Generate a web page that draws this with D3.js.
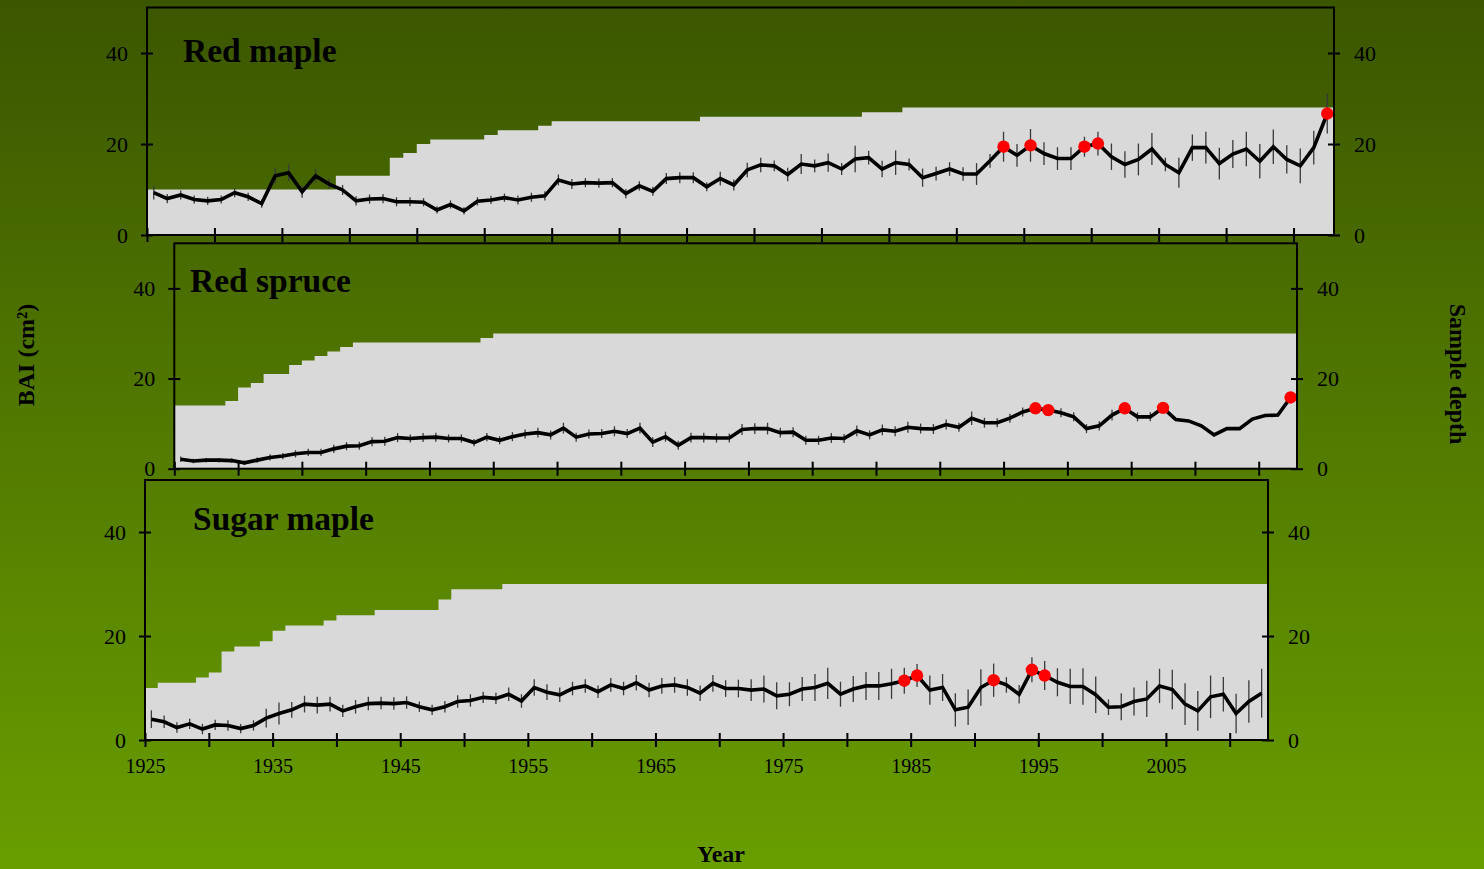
<!DOCTYPE html>
<html><head><meta charset="utf-8">
<script src="https://cdn.jsdelivr.net/npm/d3@7"></script>
<style>body{margin:0;background:#507800;} svg{display:block;}</style>
</head><body>
<svg id="c" width="1484" height="869"></svg>
<script>
// ---------------- DATA ----------------
const years = [1925,1926,1927,1928,1929,1930,1931,1932,1933,1934,1935,1936,1937,1938,1939,1940,1941,1942,1943,1944,1945,1946,1947,1948,1949,1950,1951,1952,1953,1954,1955,1956,1957,1958,1959,1960,1961,1962,1963,1964,1965,1966,1967,1968,1969,1970,1971,1972,1973,1974,1975,1976,1977,1978,1979,1980,1981,1982,1983,1984,1985,1986,1987,1988,1989,1990,1991,1992,1993,1994,1995,1996,1997,1998,1999,2000,2001,2002,2003,2004,2005,2006,2007,2008,2009,2010,2011,2012];
const speciesNames = ["Red maple","Red spruce","Sugar maple"];
const yTickValues = [0,20,40];
const xTickYears = [1925,1930,1935,1940,1945,1950,1955,1960,1965,1970,1975,1980,1985,1990,1995,2000,2005,2010];
const xTickLabels = ["1925","1935","1945","1955","1965","1975","1985","1995","2005"];

const redMapleBAI = [9.3,8.0,8.8,7.8,7.5,7.8,9.3,8.4,6.9,13.0,13.7,9.5,13.0,11.2,9.9,7.5,7.9,8.0,7.3,7.3,7.2,5.5,6.7,5.3,7.4,7.7,8.2,7.7,8.3,8.6,12.1,11.2,11.5,11.4,11.5,9.1,10.8,
 9.6,12.4,12.6,12.6,10.6,12.4,11.0,14.3,15.4,15.2,13.3,15.6,15.2,15.9,14.5,16.7,17.0,14.5,15.9,15.5,12.6,13.5,14.5,13.4,13.4,16.3,19.4,17.5,19.7,17.9,16.8,16.8,19.4,20.1,17.2,15.5,16.6,18.9,15.5,13.7,19.2,19.2,15.7,17.8,18.9,16.2,19.4,16.6,15.2,19.2,26.7];
const redMapleErr = [1.5,1.0,1.0,0.9,0.9,0.9,1.0,0.9,0.9,1.6,1.8,1.3,1.5,1.1,1.1,1.0,1.0,1.0,1.0,1.0,0.9,0.8,0.9,0.8,0.9,0.9,0.9,1.0,1.0,1.0,1.2,1.1,1.0,1.0,1.0,1.0,1.0,
 1.0,1.2,1.2,1.2,1.0,1.5,1.2,1.6,1.6,1.2,1.5,2.2,1.4,2.0,1.3,2.9,1.5,1.8,2.7,1.3,2.0,1.5,1.5,1.5,2.4,1.5,3.3,2.5,3.6,2.5,2.5,2.5,2.2,2.6,2.9,2.9,3.5,3.5,1.5,3.3,2.9,3.5,3.5,3.1,3.8,3.8,3.8,3.1,3.8,3.7,4.4];
const redMapleDepth = [10,10,10,10,10,10,10,10,10,10,10,10,10,10,13,13,13,13,17,18,20,21,21,21,21,22,23,23,23,24,25,25,25,25,25,25,25,25,25,25,25,26,26,26,26,26,26,26,26,26,26,26,26,27,27,27,
 28,28,28,28,28,28,28,28,28,28,28,28,28,28,28,28,28,28,28,28,28,28,28,28,28,28,28,28,28,28,28,28];
const redMapleSig = [1988,1990,1994,1995,2012];

const redSpruceBAI = [2.1,1.7,1.9,1.9,1.8,1.3,1.9,2.5,2.8,3.3,3.6,3.6,4.4,5.0,5.1,6.0,6.1,6.9,6.7,6.9,7.0,6.7,6.7,5.8,7.0,6.3,7.1,7.7,8.0,7.5,9.0,7.0,7.7,7.8,8.3,7.8,9.0,5.9,
 7.1,5.2,6.9,6.9,6.8,6.8,8.7,8.9,8.9,8.0,8.1,6.3,6.3,6.8,6.7,8.4,7.5,8.6,8.3,9.2,8.9,8.8,9.8,9.2,11.2,10.2,10.2,11.2,12.6,13.4,13.0,12.4,11.5,8.9,9.5,11.9,13.4,11.5,11.5,13.5,10.9,10.6,9.5,7.5,8.9,8.9,11.0,11.8,11.9,15.8];
const redSpruceErr = [0.6,0.5,0.5,0.5,0.5,0.5,0.6,0.7,0.7,0.8,0.8,0.8,0.9,0.9,0.9,1.0,1.0,1.0,0.9,1.0,1.0,0.9,0.9,0.8,0.9,0.9,1.0,1.0,1.1,1.0,
 1.2,1.0,1.0,1.0,1.1,1.0,1.2,1.1,1.1,1.0,1.1,1.1,1.0,1.0,1.2,1.2,1.3,1.1,1.1,1.0,1.0,1.1,1.0,1.2,1.0,1.2,1.1,1.2,1.1,1.1,
 1.1,1.0,1.5,1.1,1.0,1.0,1.0,1.0,1.0,1.0,1.0,1.0,1.0,1.2,1.0,1.0,1.0,1.0,0,0,0,0,0,0,0,0,0,0];
const redSpruceDepth = [14,14,14,14,15,18,19,21,21,23,24,25,26,27,28,28,28,28,28,28,28,28,28,28,29,
 30,30,30,30,30,30,30,30,30,30,30,30,30,30,30,30,30,30,30,30,30,30,30,30,30,30,30,30,30,30,30,30,30,30,30,30,30,30,30,30,30,30,30,30,30,30,30,30,30,30,30,30,30,30,30,30,30,30,30,30,30,30,30];
const redSpruceSig = [1992,1993,1999,2002,2012];

const sugarMapleBAI = [4.0,3.5,2.4,3.1,2.1,2.9,2.8,2.2,2.8,4.2,5.1,5.8,6.9,6.7,6.9,5.6,6.4,7.0,7.1,7.0,7.2,6.4,5.8,6.4,7.4,7.6,8.2,8.0,8.8,7.5,10.1,9.2,8.7,9.9,10.4,9.3,10.6,9.9,
 11.0,9.6,10.4,10.6,10.1,9.0,10.9,9.9,9.9,9.6,9.8,8.5,8.8,9.8,10.1,10.9,8.8,9.8,10.4,10.4,10.8,11.4,12.4,9.6,10.1,5.8,6.3,10.1,11.5,10.6,8.8,13.5,12.4,11.1,10.3,10.3,8.7,6.3,6.4,7.4,7.9,10.4,9.7,6.9,5.6,8.3,8.8,5.1,7.4,9.0];
const sugarMapleErr = [1.7,1.2,1.0,1.0,1.0,1.0,1.0,0.9,1.0,1.8,2.1,1.5,1.6,1.6,1.4,1.2,1.3,1.3,1.2,1.2,1.2,1.0,1.0,1.1,1.2,1.2,1.1,1.1,1.3,1.3,
 1.6,1.5,1.4,1.3,1.3,1.2,1.3,1.3,1.5,1.4,1.5,1.5,1.6,1.5,1.6,1.6,1.7,2.1,2.6,2.6,2.3,2.3,2.6,3.0,2.4,2.5,2.7,2.7,2.9,2.5,
 2.2,2.8,2.6,3.2,3.4,3.5,3.2,1.5,1.8,2.4,2.8,2.7,3.4,3.5,3.5,1.5,2.6,2.7,3.5,3.3,3.8,4.0,3.8,4.1,3.3,3.8,4.1,4.7];
const sugarMapleDepth = [10,11,11,11,12,13,17,18,18,19,21,22,22,22,23,24,24,24,25,25,25,25,25,27,29,29,29,29,
 30,30,30,30,30,30,30,30,30,30,30,30,30,30,30,30,30,30,30,30,30,30,30,30,30,30,30,30,30,30,30,30,30,30,30,30,30,30,30,30,30,30,30,30,30,30,30,30,30,30,30,30,30,30,30,30,30,30,30,30];
const sugarMapleSig = [1984,1985,1991,1994,1995];

// ---------------- LAYOUT ----------------
const W = 1484, H = 869;
const svg = d3.select("#c");
const defs = svg.append("defs");
const grad = defs.append("linearGradient").attr("id","bg").attr("x1",0).attr("y1",0).attr("x2",0).attr("y2",1);
grad.append("stop").attr("offset","0%").attr("stop-color","#3b5600");
grad.append("stop").attr("offset","100%").attr("stop-color","#699e00");
svg.append("rect").attr("width",W).attr("height",H).attr("fill","url(#bg)");

const panels = [
  {name: speciesNames[0], bai: redMapleBAI, err: redMapleErr, depth: redMapleDepth, sig: redMapleSig,
   x0:147, x1:1334, top:7.5, bottom:235, tx:183, ty:62, labels:false},
  {name: speciesNames[1], bai: redSpruceBAI, err: redSpruceErr, depth: redSpruceDepth, sig: redSpruceSig,
   x0:174.3, x1:1297, top:243.3, bottom:468.7, tx:190, ty:292, labels:false},
  {name: speciesNames[2], bai: sugarMapleBAI, err: sugarMapleErr, depth: sugarMapleDepth, sig: sugarMapleSig,
   x0:145, x1:1268, top:480, bottom:740, tx:193, ty:530, labels:true}
];

const serif = "'Liberation Serif','Times New Roman',serif";

panels.forEach(p => {
  const g = svg.append("g");
  const xb = d3.scaleBand().domain(years).range([p.x0, p.x1]).padding(0);
  const bw = xb.bandwidth();
  const xc = yr => xb(yr) + bw/2;
  const xEdge = d3.scaleLinear().domain([years[0], years[years.length-1] + 1]).range([p.x0, p.x1]);
  const y = d3.scaleLinear().domain([0, 50]).range([p.bottom, p.top]);

  // sample depth step area
  const depthPts = years.map((yr,i) => [xb(yr), p.depth[i]]);
  depthPts.push([p.x1, p.depth[p.depth.length-1]]);
  g.append("path")
    .attr("d", d3.area().x(d=>d[0]).y0(y(0)).y1(d=>y(d[1])).curve(d3.curveStepAfter)(depthPts))
    .attr("fill", "#d9d9d9");

  // error bars
  g.append("g").selectAll("line").data(years.map((yr,i)=>({yr, v:p.bai[i], e:p.err[i]})).filter(d=>d.e>0))
    .join("line")
    .attr("x1", d=>xc(d.yr)).attr("x2", d=>xc(d.yr))
    .attr("y1", d=>y(d.v - d.e)).attr("y2", d=>y(d.v + d.e))
    .attr("stroke", "#3a3a3a").attr("stroke-width", 1.3);

  // BAI line
  g.append("path")
    .attr("d", d3.line().x((d,i)=>xc(years[i])).y(d=>y(d))(p.bai))
    .attr("fill","none").attr("stroke","#000").attr("stroke-width",3.6).attr("stroke-linejoin","miter");

  // significant years
  g.append("g").selectAll("circle").data(p.sig).join("circle")
    .attr("cx", d=>xc(d)).attr("cy", d=>y(p.bai[years.indexOf(d)]))
    .attr("r", 6.2).attr("fill", "#ff0000");

  // frame
  g.append("rect").attr("x", p.x0).attr("y", p.top).attr("width", p.x1-p.x0).attr("height", p.bottom-p.top)
    .attr("fill","none").attr("stroke","#000").attr("stroke-width",2);

  // x axis
  const xa = g.append("g").attr("transform", `translate(0,${p.bottom})`)
    .call(d3.axisBottom(xEdge).tickValues(xTickYears).tickSize(7).tickSizeOuter(0)
      .tickFormat(d => (p.labels && xTickLabels.includes(String(d))) ? String(d) : ""));
  xa.select(".domain").remove();
  xa.selectAll(".tick line").attr("y1",-7).attr("y2",7).attr("stroke","#000").attr("stroke-width",2);
  xa.selectAll(".tick text").attr("y", 33).attr("dy", 0).attr("font-family", serif).attr("font-size", 20).attr("fill","#000");

  // left y axis
  const yl = g.append("g").attr("transform", `translate(${p.x0},0)`)
    .call(d3.axisLeft(y).tickValues(yTickValues).tickSize(6).tickSizeOuter(0));
  yl.select(".domain").remove();
  yl.selectAll(".tick line").attr("x1",-6).attr("x2",6).attr("stroke","#000").attr("stroke-width",2);
  yl.selectAll(".tick text").attr("x",-19).attr("dy","0.33em").attr("font-family", serif).attr("font-size", 22).attr("fill","#000");

  // right y axis (sample depth)
  const yr = g.append("g").attr("transform", `translate(${p.x1},0)`)
    .call(d3.axisRight(y).tickValues(yTickValues).tickSize(6).tickSizeOuter(0));
  yr.select(".domain").remove();
  yr.selectAll(".tick line").attr("x1",-6).attr("x2",6).attr("stroke","#000").attr("stroke-width",2);
  yr.selectAll(".tick text").attr("x",20).attr("dy","0.33em").attr("font-family", serif).attr("font-size", 22).attr("fill","#000");

  // species title
  g.append("text").attr("x", p.tx).attr("y", p.ty).text(p.name)
    .attr("font-family", serif).attr("font-weight","bold").attr("font-size", 33.5).attr("fill","#000");
});

// axis titles
svg.append("text").attr("transform","translate(34,355) rotate(-90)").attr("text-anchor","middle")
  .attr("font-family", serif).attr("font-weight","bold").attr("font-size",24).attr("fill","#000").text("BAI (cm²)");
svg.append("text").attr("transform","translate(1450,374) rotate(90)").attr("text-anchor","middle")
  .attr("font-family", serif).attr("font-weight","bold").attr("font-size",24).attr("fill","#000").text("Sample depth");
svg.append("text").attr("x",721).attr("y",862).attr("text-anchor","middle")
  .attr("font-family", serif).attr("font-weight","bold").attr("font-size",24).attr("fill","#000").text("Year");
</script>
</body></html>
